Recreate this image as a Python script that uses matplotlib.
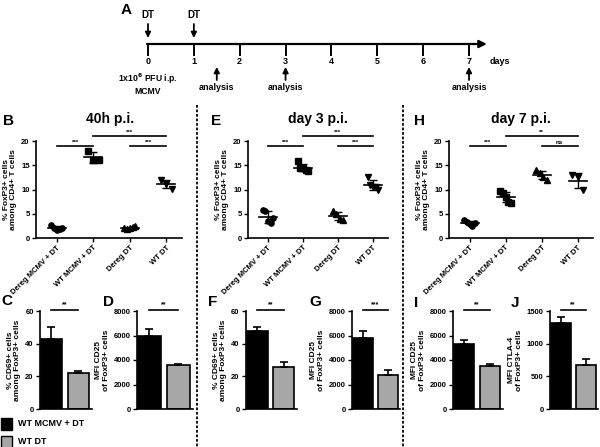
import matplotlib
matplotlib.use('Agg')
import matplotlib.pyplot as plt
import numpy as np

plt.rcParams['font.family'] = ['Liberation Sans', 'DejaVu Sans']
plt.rcParams['font.weight'] = 'bold'
plt.rcParams['axes.linewidth'] = 1.2

W, H = 600, 447
fig = plt.figure(figsize=(6.0, 4.47), dpi=100)

# ---------------- data ----------------
groups = ["Dereg MCMV + DT", "WT MCMV + DT", "Dereg DT", "WT DT"]
markers = ['o', 's', '^', 'v']

vals_B = [[2.7, 2.0, 1.6, 1.8, 2.0], [18.0, 16.0, 16.0], [2.0, 1.9, 2.0, 2.2, 2.4], [12.0, 11.2, 10.2]]
vals_E = [[5.8, 5.5, 3.5, 3.0, 4.2], [15.8, 14.5, 14.5, 14.0, 13.8], [5.5, 5.0, 4.0, 3.8], [12.5, 11.0, 10.5, 10.5, 9.8]]
vals_H = [[3.8, 3.3, 2.8, 2.5, 3.0], [9.7, 9.3, 8.5, 7.5, 7.3], [14.0, 13.5, 12.5, 12.0], [13.0, 12.5, 10.0]]

sig_B = [(0, 1, 19, '***'), (1, 3, 21, '***'), (2, 3, 19, '***')]
sig_E = [(0, 1, 19, '***'), (1, 3, 21, '***'), (2, 3, 19, '***')]
sig_H = [(0, 1, 19, '***'), (1, 3, 21, '**'), (2, 3, 19, 'ns')]

bar_groups = ["WT MCMV + DT", "WT DT"]
bar_colors = ['#000000', '#a6a6a6']
C_mean, C_err = [43, 22], [7, 1]
D_mean, D_err = [6000, 3600], [500, 100]
F_mean, F_err = [48, 26], [2, 3]
G_mean, G_err = [5800, 2800], [600, 400]
I_mean, I_err = [5300, 3550], [350, 150]
J_mean, J_err = [1320, 680], [90, 80]

days = [0, 1, 2, 3, 4, 5, 6, 7]
dt_days = [0, 1]
analysis_days = [1.5, 3, 7]

ylab_scatter = "% FoxP3+ cells\namong CD4+ T cells"
ylab_cd69 = "% CD69+ cells\namong FoxP3+ cells"
ylab_cd25 = "MFI CD25\nof FoxP3+ cells"
ylab_ctla4 = "MFI CTLA-4\nof FoxP3+ cells"


def ax_px(l, t, r, b):
    return fig.add_axes([l / W, 1 - b / H, (r - l) / W, (b - t) / H])


def fig_text(x, y, s, **kw):
    fig.text(x / W, 1 - y / H, s, **kw)


def style(ax, fs=5.5):
    for sp in ['top', 'right']:
        ax.spines[sp].set_visible(False)
    ax.tick_params(labelsize=fs, length=3, width=1.0, pad=1.5)
    for lab in ax.get_yticklabels():
        lab.set_fontweight('bold')


def scatter_panel(box, vals, sigs, title, letter, letter_xy, title_x):
    ax = ax_px(*box)
    for i, v in enumerate(vals):
        v = np.array(v)
        n = len(v)
        off = np.linspace(-0.15, 0.15, n)
        ax.plot(i + off, v, linestyle='none', marker=markers[i], color='k', markersize=3.8, clip_on=False)
        m, sd = v.mean(), v.std(ddof=1)
        ax.plot([i - 0.25, i + 0.25], [m, m], color='k', lw=1.2)
        ax.errorbar([i], [m], yerr=[sd], color='k', lw=1.0, capsize=3, capthick=1.0, fmt='none')
    for (a, b, lvl, s) in sigs:
        ax.plot([a, b], [lvl, lvl], color='k', lw=1.2, clip_on=False)
        ax.text((a + b) / 2, lvl + 0.2, s, ha='center', va='bottom', fontsize=4.5, fontweight='bold')
    ax.set_ylim(0, 20)
    ax.set_yticks([0, 5, 10, 15, 20])
    ax.set_xlim(-0.57, 3.43)
    ax.set_xticks(range(len(groups)))
    ax.set_xticklabels(groups, rotation=45, ha='right', rotation_mode='anchor', fontsize=5.5, fontweight='bold')
    style(ax)
    ax.set_ylabel(ylab_scatter, fontsize=6, fontweight='bold', labelpad=3, linespacing=1.1)
    fig_text(title_x, 119, title, ha='center', va='center', fontsize=10, fontweight='bold')
    fig_text(letter_xy[0], letter_xy[1], letter, ha='left', va='center', fontsize=11, fontweight='bold')
    return ax


scatter_panel((36, 141, 182, 238), vals_B, sig_B, "40h p.i.", "B", (3, 121), 110)
scatter_panel((248, 141, 388, 238), vals_E, sig_E, "day 3 p.i.", "E", (211, 121), 318)
scatter_panel((449, 141, 593, 238), vals_H, sig_H, "day 7 p.i.", "H", (414, 121), 521)


def bar_panel(box, means, errs, ymax, yticks, ylabel, sig, letter, letter_xy):
    ax = ax_px(*box)
    x = np.arange(len(means))
    ax.bar(x, means, width=0.8, color=bar_colors, edgecolor='k', linewidth=1.2, zorder=2)
    ax.errorbar(x, means, yerr=[[0] * len(errs), errs], fmt='none', ecolor='k', elinewidth=1.2,
                capsize=3, capthick=1.2, zorder=3)
    ax.set_xlim(-0.42, 1.5)
    ax.set_ylim(0, ymax)
    ax.set_yticks(yticks)
    ax.set_xticks([])
    style(ax)
    ax.plot([0, 1], [ymax * 1.015, ymax * 1.015], color='k', lw=1.2, clip_on=False)
    ax.text(0.5, ymax * 1.025, sig, ha='center', va='bottom', fontsize=5, fontweight='bold')
    ax.set_ylabel(ylabel, fontsize=6, fontweight='bold', labelpad=3, linespacing=1.1)
    fig_text(letter_xy[0], letter_xy[1], letter, ha='left', va='center', fontsize=11, fontweight='bold')
    return ax


bar_panel((40, 311, 92, 409), C_mean, C_err, 60, [0, 20, 40, 60], ylab_cd69, '**', 'C', (1, 301))
bar_panel((137, 311, 193, 409), D_mean, D_err, 8000, [0, 2000, 4000, 6000, 8000], ylab_cd25, '**', 'D', (103, 302))
bar_panel((246, 311, 297, 409), F_mean, F_err, 60, [0, 20, 40, 60], ylab_cd69, '**', 'F', (208, 302))
bar_panel((352, 311, 400, 409), G_mean, G_err, 8000, [0, 2000, 4000, 6000, 8000], ylab_cd25, '***', 'G', (309, 302))
bar_panel((453, 311, 503, 409), I_mean, I_err, 8000, [0, 2000, 4000, 6000, 8000], ylab_cd25, '**', 'I', (414, 303))
bar_panel((550, 311, 598, 409), J_mean, J_err, 1500, [0, 500, 1000, 1500], ylab_ctla4, '**', 'J', (511, 303))

# legend
for k, (lab, col) in enumerate(zip(bar_groups, bar_colors)):
    yc = 424 + 18 * k
    fig.patches.append(matplotlib.patches.Rectangle((1 / W, 1 - (yc + 6) / H), 11 / W, 12 / H,
                                                    transform=fig.transFigure, facecolor=col,
                                                    edgecolor='k', lw=1.0))
    fig_text(18, yc, lab, ha='left', va='center', fontsize=6.5, fontweight='bold')

# dashed separators
sep = ax_px(0, 0, 600, 447)
sep.set_xlim(0, W)
sep.set_ylim(H, 0)
sep.axis('off')
for xs in [197, 403]:
    sep.plot([xs, xs], [105, 447], color='k', lw=1.3, linestyle=(0, (1.5, 1.0)))

# ---------------- timeline (A) ----------------
px_per_day = (469 - 148) / 7.0
tl_l, tl_r = 100, 530
ta = ax_px(tl_l, 0, tl_r, 105)
ta.set_xlim(-(148 - tl_l) / px_per_day, 7 + (tl_r - 469) / px_per_day)
ta.set_ylim(105, 0)
ta.axis('off')
y_axis = 44
ta.annotate('', xy=(7.39, y_axis), xytext=(-0.02, y_axis),
            arrowprops=dict(arrowstyle='-|>', lw=1.6, color='k', mutation_scale=11, shrinkA=0, shrinkB=0))
for d in days:
    ta.plot([d, d], [y_axis, 55], color='k', lw=1.4)
    ta.text(d, 62, str(d), ha='center', va='center', fontsize=6.5, fontweight='bold')
ta.text(7.68, 62, 'days', ha='center', va='center', fontsize=6.5, fontweight='bold')
for d in dt_days:
    ta.annotate('', xy=(d, 38), xytext=(d, 24),
                arrowprops=dict(arrowstyle='-|>', lw=1.3, color='k', mutation_scale=8, shrinkA=0, shrinkB=0))
    ta.text(d, 15, 'DT', ha='center', va='center', fontsize=7, fontweight='bold')
for d in analysis_days:
    ta.annotate('', xy=(d, 67), xytext=(d, 80),
                arrowprops=dict(arrowstyle='-|>', lw=1.3, color='k', mutation_scale=8, shrinkA=0, shrinkB=0))
    ta.text(d, 88, 'analysis', ha='center', va='center', fontsize=6.5, fontweight='bold')
ta.text(0, 79, '1x10$^{\\mathbf{6}}$ PFU i.p.', ha='center', va='center', fontsize=6.2, fontweight='bold')
ta.text(0, 91, 'MCMV', ha='center', va='center', fontsize=6.2, fontweight='bold')
fig_text(121, 10, 'A', ha='left', va='center', fontsize=11, fontweight='bold')

fig.savefig('out.png', dpi=100)
